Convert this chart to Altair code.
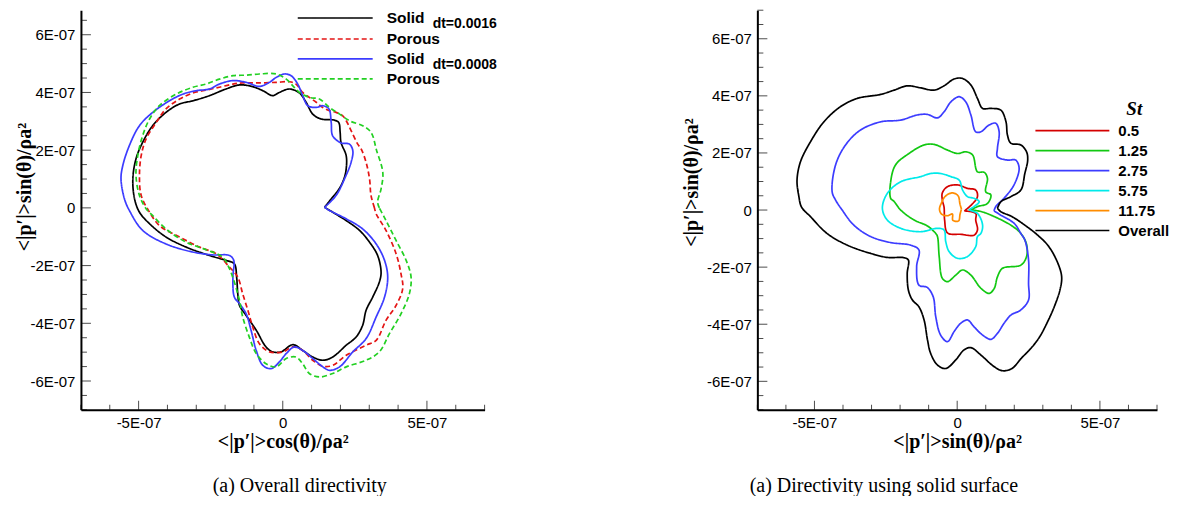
import altair as alt
import pandas as pd

E = 1e-7
FONT_SANS = "Liberation Sans"
FONT_SERIF = "Liberation Serif"

# ---------------- data (values in units of 1e-7) ----------------
# left panel: overall directivity
L_SOLID16_X = [1.45,1.68,1.87,2.02,2.14,2.20,2.20,2.02,1.99,1.94, 1.79,1.33,1.04,0.81,0.58,0.23,-0.12,-0.35,-0.69,-1.04,
               -1.50,-1.97,-2.54,-3.12,-3.58,-4.05,-4.51,-4.86,-5.09,-5.20, -5.14,-4.97,-4.62,-4.05,-3.35,-2.54,-1.97,-1.68,-1.60,-1.56,
               -1.50,-1.27,-0.92,-0.58,-0.35,-0.06,0.35,0.69,1.04,1.39, 1.73,2.20,2.54,2.77,2.89,3.12,3.35,3.41,3.29,3.01, 2.66,2.20,1.73]
L_SOLID16_Y = [0.02,0.31,0.54,0.77,1.06,1.35,1.81,2.27,2.62,2.96, 3.04,3.08,3.25,3.66,3.98,4.12,4.00,3.89,4.06,4.20,
               4.26,4.12,3.89,3.71,3.60,3.31,2.85,2.27,1.70,1.00, 0.31,-0.15,-0.55,-1.01,-1.36,-1.65,-1.82,-1.94,-2.40,-2.98,
               -3.38,-3.73,-4.24,-4.82,-4.99,-4.99,-4.74,-4.94,-5.17,-5.28, -5.17,-4.76,-4.48,-4.07,-3.55,-3.09,-2.57,-2.23,-1.65,-1.19, -0.78,-0.44,-0.15]

L_POROUS16_X = [3.18,3.06,3.01,2.89,2.72,2.60,2.37,2.20,2.08,1.85, 1.62,1.39,1.16,0.92,0.69,0.46,0.23,-0.23,-0.81,-1.39,
                -1.73,-2.20,-2.66,-3.12,-3.58,-4.05,-4.39,-4.74,-4.91,-4.97, -4.91,-4.62,-4.28,-3.58,-2.89,-2.31,-1.85,-1.56,-1.39,-1.21,
                -1.04,-0.81,-0.46,0.0,0.35,0.69,1.04,1.39,1.73,2.20, 2.89,3.24,3.58,3.93,4.16,4.10,3.93,3.58,3.24]
L_POROUS16_Y = [0.0,0.43,1.00,1.58,2.04,2.21,2.68,3.02,3.19,3.31, 3.37,3.48,3.66,3.83,4.00,4.29,4.37,4.35,4.33,4.33,
                4.29,4.18,4.08,3.98,3.77,3.43,2.96,2.39,1.81,1.12, 0.43,-0.15,-0.61,-1.01,-1.36,-1.59,-2.05,-2.40,-2.98,-3.55,
                -4.13,-4.71,-4.99,-4.99,-4.82,-4.94,-5.28,-5.49,-5.46,-5.11, -4.76,-4.59,-3.90,-3.38,-2.80,-2.28,-1.59,-0.78,-0.21]

L_SOLID08_X = [1.45,1.85,2.14,2.37,2.43,2.31,2.02,1.73,1.68,1.60, 1.39,1.16,0.87,0.69,0.52,0.29,0.06,-0.23,-0.46,-0.81,
               -1.27,-1.73,-2.20,-2.54,-3.01,-3.47,-3.93,-4.51,-4.97,-5.32, -5.55,-5.61,-5.49,-5.32,-4.86,-4.05,-3.12,-2.43,-1.85,-1.70,
               -1.73,-1.68,-1.50,-1.27,-1.10,-0.92,-0.69,-0.40,-0.12,0.12, 0.40,0.69,1.04,1.39,1.62,1.97,2.43,2.89,3.24,3.53,
               3.64,3.53,3.24,2.77,2.20,1.62]
L_SOLID08_Y = [0.02,0.43,1.00,1.58,1.98,2.21,2.25,2.50,2.96,3.43, 3.54,3.48,3.54,3.89,4.29,4.58,4.64,4.52,4.35,4.21,
               4.35,4.41,4.29,4.12,4.06,3.94,3.71,3.31,2.85,2.16, 1.46,1.00,0.31,-0.09,-0.78,-1.25,-1.53,-1.63,-1.65,-1.82,
               -2.40,-3.09,-3.32,-3.67,-4.24,-4.94,-5.46,-5.57,-5.34,-5.05, -4.82,-4.94,-5.22,-5.51,-5.63,-5.51,-4.99,-4.53,-3.78,-3.09,
               -2.40,-1.82,-1.25,-0.73,-0.38,-0.09]

L_POROUS08_X = [3.35,3.29,3.41,3.47,3.24,3.12,3.01,2.77,2.31,1.97, 1.62,1.27,0.92,0.58,0.35,0.12,-0.23,-0.81,-1.27,-1.73,
                -2.20,-2.66,-3.12,-3.70,-4.28,-4.62,-4.86,-5.03,-5.09,-4.97, -4.74,-4.51,-4.05,-3.35,-2.66,-2.08,-1.85,-1.68,-1.50,-1.39,
                -1.16,-0.92,-0.58,-0.23,0.12,0.46,0.69,0.92,1.27,1.73, 2.20,2.89,3.35,3.70,4.10,4.39,4.45,4.28,3.93,3.58]
L_POROUS08_Y = [0.0,0.20,0.66,1.23,2.04,2.50,2.68,2.85,3.02,3.25, 3.48,3.77,3.83,4.00,4.23,4.46,4.64,4.64,4.60,4.58,
                4.46,4.29,4.18,3.94,3.54,3.08,2.50,1.81,1.12,0.43, -0.03,-0.27,-0.73,-1.19,-1.45,-1.71,-2.11,-2.57,-3.21,-3.78,
                -4.48,-5.05,-5.40,-5.51,-5.22,-5.17,-5.40,-5.74,-5.86,-5.74, -5.51,-5.28,-4.99,-4.36,-3.67,-2.98,-2.40,-1.82,-1.13,-0.44]

# right panel: directivity using solid surface, per Strouhal number
R_ST05_X = [0.25,0.50,0.71,0.65,0.36,0.01,-0.34,-0.52,-0.52,-0.46, -0.44,-0.34,0.13,0.59,0.71,0.65,0.65]
R_ST05_Y = [-0.03,0.18,0.47,0.70,0.76,0.88,0.82,0.60,0.35,0.10, -0.35,-0.80,-0.85,-0.88,-0.70,-0.35,-0.12]

R_ST125_X = [0.48,0.71,1.06,1.18,1.00,1.06,0.95,0.71,0.54,0.30, 0.01,-0.34,-0.81,-1.16,-1.69,-2.16,-2.33,-2.33,-2.21,-1.98,
             -1.51,-1.04,-0.75,-0.69,-0.63,-0.52,-0.34,-0.05,0.19,0.48, 0.83,1.12,1.30,1.41,1.59,2.23,2.43,2.43,2.23,1.88, 1.30,0.83]
R_ST125_Y = [0.0,0.12,0.23,0.53,0.64,1.11,1.32,1.34,1.93,2.04, 1.98,2.10,2.30,2.28,1.98,1.58,0.99,0.41,0.30,0.0,
             -0.35,-0.56,-0.82,-0.93,-1.63,-2.39,-2.51,-2.28,-2.10,-2.28, -2.74,-2.92,-2.74,-2.34,-2.04,-1.93,-1.63,-1.20,-0.82,-0.53, -0.23,-0.05]

R_ST275_X = [1.29,1.35,1.64,1.99,2.17,2.05,1.76,1.41,1.41,1.47, 1.35,1.12,0.83,0.65,0.48,0.30,0.07,-0.22,-0.46,-0.69,
             -1.05,-1.40,-1.98,-2.68,-3.39,-3.91,-4.26,-4.38,-4.26,-4.03, -3.62,-3.03,-2.33,-1.63,-1.34,-1.42,-1.34,-1.05,-0.84,-0.75,
             -0.58,-0.34,-0.11,0.12,0.36,0.59,0.89,1.18,1.41,1.64, 1.88,2.23,2.50,2.50,2.50,2.37,2.23,2.00,1.53]
R_ST275_Y = [-0.03,0.12,0.41,0.88,1.46,1.75,1.75,1.87,2.16,2.74, 3.04,2.98,2.74,2.74,3.33,3.79,3.97,3.79,3.44,3.23,
             3.35,3.33,3.15,3.09,2.80,2.28,1.58,0.64,0.35,0.0, -0.53,-0.93,-1.14,-1.23,-1.40,-1.98,-2.63,-2.71,-3.04,-3.74,
             -4.38,-4.61,-4.26,-3.97,-3.85,-4.09,-4.38,-4.53,-4.32,-3.97, -3.68,-3.50,-3.15,-2.57,-1.75,-1.05,-0.82,-0.47,-0.18]

R_ST575_X = [0.40,0.77,0.59,0.36,0.19,0.07,-0.22,-0.58,-0.93,-1.28, -1.98,-2.45,-2.62,-2.45,-1.98,-1.28,-0.69,-0.46,-0.40,-0.28,
             0.01,0.36,0.65,0.71,0.83,0.89,0.71]
R_ST575_Y = [0.0,0.29,0.41,0.47,0.70,1.05,1.17,1.28,1.28,1.17, 0.99,0.58,0.06,-0.35,-0.64,-0.76,-0.64,-0.70,-1.11,-1.46,
             -1.69,-1.63,-1.28,-0.93,-0.82,-0.53,-0.12]

R_ST1175_X = [0.15,0.10,0.03,-0.17,-0.42,-0.55,-0.62,-0.55,-0.34,-0.17,-0.15,0.05,0.10]
R_ST1175_Y = [0.03,0.20,0.50,0.60,0.48,0.25,0.03,-0.14,-0.20,-0.14,-0.36,-0.38,-0.15]

R_OVERALL_X = [1.41,1.53,1.88,2.23,2.37,2.47,2.43,2.23,1.88,1.76, 1.71,1.53,1.18,0.89,0.71,0.48,0.18,-0.11,-0.46,-0.81,
               -1.28,-1.75,-2.21,-2.68,-3.50,-4.09,-4.67,-5.14,-5.49,-5.61, -5.55,-5.45,-5.14,-4.56,-3.85,-3.03,-2.45,-1.86,-1.71,-1.75,
               -1.71,-1.57,-1.34,-1.16,-1.04,-0.93,-0.69,-0.40,-0.05,0.24, 0.48,0.83,1.30,1.59,1.92,2.24,2.63,2.89,3.14,3.40,
               3.60,3.66,3.53,3.21,2.82,2.37,1.92,1.53]
R_OVERALL_Y = [0.06,0.29,0.47,0.70,1.28,1.75,2.04,2.28,2.34,2.63, 3.09,3.50,3.56,3.56,3.91,4.38,4.61,4.59,4.35,4.20,
               4.28,4.35,4.20,4.05,3.91,3.62,3.09,2.39,1.69,1.05, 0.50,0.10,-0.23,-0.82,-1.23,-1.52,-1.66,-1.67,-1.75,-2.22,
               -2.80,-3.15,-3.39,-3.85,-4.55,-5.02,-5.43,-5.55,-5.25,-4.90, -4.82,-5.08,-5.49,-5.63,-5.55,-5.20,-4.79,-4.44,-3.97,-3.39,
               -2.80,-2.34,-1.87,-1.28,-0.88,-0.53,-0.23,-0.06]

# series names, legend texts, titles
SERIES_L = ["Solid dt=0.0016", "Porous dt=0.0016", "Solid dt=0.0008", "Porous dt=0.0008"]
LEG_L_NAMES = ["Solid", "Porous", "Solid", "Porous"]
LEG_L_DT = ["dt=0.0016", "dt=0.0008"]
SERIES_R = ["0.5", "1.25", "2.75", "5.75", "11.75", "Overall"]
LEG_R_TITLE = "St"
X_TICKS = [-5, 0, 5]
Y_TICKS = [-6, -4, -2, 0, 2, 4, 6]
TITLE_X_L = "<|p′|>cos(θ)/ρa²"
TITLE_Y_L = "<|p′|>sin(θ)/ρa²"
TITLE_X_R = "<|p′|>sin(θ)/ρa²"
TITLE_Y_R = "<|p′|>sin(θ)/ρa²"
CAPTION_L = "(a) Overall directivity"
CAPTION_R = "(a) Directivity using solid surface"

# styles
COLORS_L = ["#000000", "#e41414", "#3c3cff", "#22d022"]
DASH_L = [[1, 0], [5, 3], [1, 0], [5, 3]]
COLORS_R = ["#d40000", "#12c812", "#3c3cff", "#00eaea", "#ff8c00", "#000000"]
DASH_R = [[1, 0]] * 6

ONE = pd.DataFrame({"k": [0]})
LABEL_EXPR = ("datum.value == 0 ? '0' : (datum.value < 0 ? '-' : '') + "
              "format(abs(round(datum.value * 1e7)), 'd') + 'E-07'")


def frame(items, key):
    rows = []
    for name, xs, ys in items:
        pts = list(zip(xs, ys))
        pts.append(pts[0])
        for i, (x, y) in enumerate(pts):
            rows.append({key: name, "i": i, "x": x * E, "y": y * E})
    return pd.DataFrame(rows)


def hrule(x1, x2, y, color, dash):
    return alt.Chart(ONE).mark_rule(color=color, strokeDash=dash, strokeWidth=1.7).encode(
        x=alt.value(x1), x2=alt.value(x2), y=alt.value(y))


def label(x, y, text, size, font=FONT_SANS, style="normal", align="left", weight="bold"):
    return alt.Chart(ONE).mark_text(text=text, font=font, fontSize=size, fontWeight=weight,
                                    fontStyle=style, align=align, baseline="middle",
                                    color="black").encode(x=alt.value(x), y=alt.value(y))


def panel(df, key, names, colors, dashes, ymax, W, H, xtitle, ytitle, ytx, yty):
    xs = alt.Scale(domain=[-7 * E, 7 * E], nice=False, zero=False)
    ys = alt.Scale(domain=[-7 * E, ymax * E], nice=False, zero=False)
    common = dict(grid=False, ticks=False, tickSize=0, domainColor="black", domainWidth=2,
                  labelFont=FONT_SANS, labelFontSize=15, labelColor="black", labelPadding=6,
                  labelExpr=LABEL_EXPR, titleFont=FONT_SERIF, titleFontSize=20,
                  titleFontWeight="bold", titleColor="black")
    xaxis = alt.Axis(values=[v * E for v in X_TICKS], title=xtitle, titleY=22,
                     titleBaseline="top", **common)
    yaxis = alt.Axis(values=[v * E for v in Y_TICKS], title=ytitle, titleX=ytx, titleY=yty,
                     titleAngle=270, titleAlign="center", titleBaseline="middle", **common)

    lines = alt.Chart(df).mark_line(strokeWidth=1.7, interpolate="catmull-rom").encode(
        x=alt.X("x:Q", scale=xs, axis=xaxis),
        y=alt.Y("y:Q", scale=ys, axis=yaxis),
        color=alt.Color(f"{key}:N", scale=alt.Scale(domain=names, range=colors), legend=None),
        strokeDash=alt.StrokeDash(f"{key}:N", scale=alt.Scale(domain=names, range=dashes), legend=None),
        order="i:Q",
    )
    xk = list(range(-7, 8))
    xmaj = pd.DataFrame({"v": [k * E for k in xk if k % 5 == 0]})
    xmin = pd.DataFrame({"v": [k * E for k in xk if k % 5 != 0]})
    yk = [k * 0.5 for k in range(-14, int(ymax * 2) + 1)]
    ymaj = pd.DataFrame({"v": [k * E for k in yk if k % 2 == 0]})
    ymin = pd.DataFrame({"v": [k * E for k in yk if k % 2 != 0]})
    t1 = alt.Chart(xmaj).mark_tick(orient="vertical", size=9, thickness=1, color="black").encode(
        x=alt.X("v:Q", scale=xs, axis=xaxis), y=alt.value(H - 4.5))
    t2 = alt.Chart(xmin).mark_tick(orient="vertical", size=5, thickness=1, color="black").encode(
        x=alt.X("v:Q", scale=xs, axis=xaxis), y=alt.value(H - 2.5))
    t3 = alt.Chart(ymaj).mark_tick(orient="horizontal", size=10, thickness=1, color="black").encode(
        y=alt.Y("v:Q", scale=ys, axis=yaxis), x=alt.value(5))
    t4 = alt.Chart(ymin).mark_tick(orient="horizontal", size=6, thickness=1, color="black").encode(
        y=alt.Y("v:Q", scale=ys, axis=yaxis), x=alt.value(3))
    return [lines, t1, t2, t3, t4]


# ---------------- left panel ----------------
df_l = frame([(SERIES_L[0], L_SOLID16_X, L_SOLID16_Y), (SERIES_L[1], L_POROUS16_X, L_POROUS16_Y),
              (SERIES_L[2], L_SOLID08_X, L_SOLID08_Y), (SERIES_L[3], L_POROUS08_X, L_POROUS08_Y)], "case")
WL, HL = 404, 400
layers_l = panel(df_l, "case", SERIES_L, COLORS_L, DASH_L, 6.85, WL, HL, TITLE_X_L, TITLE_Y_L, -56, 176.5)
leg_y = [7.8, 28.8, 48.8, 68.8]
for k in range(4):
    layers_l.append(hrule(217, 292, leg_y[k], COLORS_L[k], DASH_L[k]))
    layers_l.append(label(306, leg_y[k], LEG_L_NAMES[k], 15.5))
layers_l.append(label(352, leg_y[0] + 6.5, LEG_L_DT[0], 14))
layers_l.append(label(352, leg_y[2] + 6.5, LEG_L_DT[1], 14))
layers_l.append(label(219, 476, CAPTION_L, 20, font=FONT_SERIF, align="center", weight="normal"))
left = alt.layer(*layers_l).properties(width=WL, height=HL)

# ---------------- right panel ----------------
df_r = frame([(SERIES_R[0], R_ST05_X, R_ST05_Y), (SERIES_R[1], R_ST125_X, R_ST125_Y),
              (SERIES_R[2], R_ST275_X, R_ST275_Y), (SERIES_R[3], R_ST575_X, R_ST575_Y),
              (SERIES_R[4], R_ST1175_X, R_ST1175_Y), (SERIES_R[5], R_OVERALL_X, R_OVERALL_Y)], "st")
WR, HR = 400, 400
layers_r = panel(df_r, "st", SERIES_R, COLORS_R, DASH_R, 7.0, WR, HR, TITLE_X_R, TITLE_Y_R, -65.7, 172)
layers_r.append(label(369.3, 98.5, LEG_R_TITLE, 19, font=FONT_SERIF, style="italic"))
for k in range(6):
    yy = 120.5 + 20 * k
    layers_r.append(hrule(278.3, 352.3, yy, COLORS_R[k], DASH_R[k]))
    layers_r.append(label(361.3, yy, SERIES_R[k], 15))
layers_r.append(label(126.6, 476, CAPTION_R, 20, font=FONT_SERIF, align="center", weight="normal"))
right = alt.layer(*layers_r).properties(width=WR, height=HR)

chart = alt.hconcat(left, right, spacing=184).resolve_scale(
    color="independent", strokeDash="independent", x="independent", y="independent"
).properties(
    padding={"left": 7, "top": 1, "right": 0, "bottom": 0}
).configure_view(stroke=None)

chart.save("out.html", embed_options={"renderer": "svg", "actions": False})
